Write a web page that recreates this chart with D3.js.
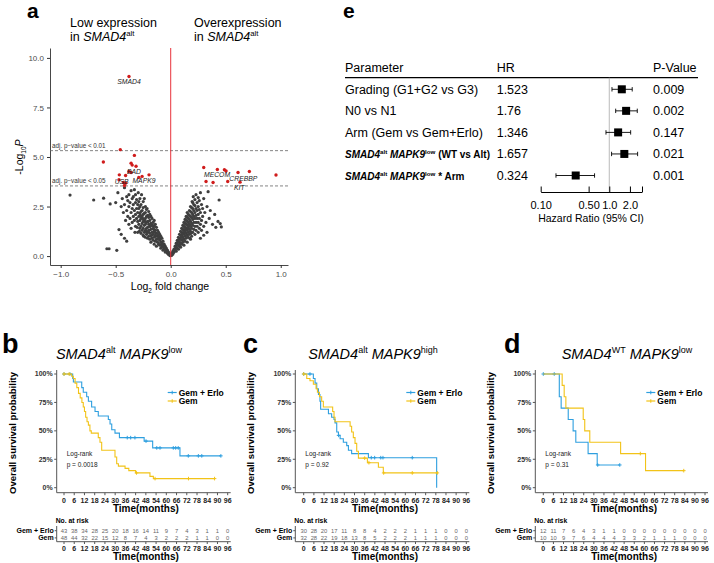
<!DOCTYPE html>
<html><head><meta charset="utf-8">
<script src="https://cdn.jsdelivr.net/npm/d3@7"></script>
<style>
body{margin:0;background:#fff;}
svg{display:block;font-family:"Liberation Sans",Arial,sans-serif;}
</style></head><body>
<svg id="c" width="714" height="563"></svg>
<script>
// ---------------- DATA ----------------
// Panel a: volcano plot (log2 fold change, -log10 P)
const volcanoGray = [
[-0.005,0.02],[-0.01,0.05],[-0.012,0.12],[-0.02,0.08],[-0.02,0.2],[-0.025,0.14],[-0.03,0.15],[-0.03,0.3],[-0.035,0.22],[-0.04,0.25],[-0.04,0.4],[-0.045,0.32],[-0.05,0.2],[-0.05,0.5],[-0.055,0.38],[-0.06,0.35],[-0.06,0.6],[-0.065,0.48],[-0.07,0.3],[-0.07,0.5],[-0.07,0.75],[-0.075,0.62],[-0.08,0.45],[-0.08,0.65],[-0.08,0.9],[-0.085,0.55],[-0.09,0.4],[-0.09,0.7],[-0.09,1.0],[-0.095,0.85],[-0.10,0.55],[-0.10,0.8],[-0.10,1.1],[-0.105,0.95],[-0.11,0.6],[-0.11,0.9],[-0.11,1.2],[-0.115,1.05],[-0.12,0.7],[-0.12,1.0],[-0.12,1.3],[-0.125,0.85],[-0.13,0.5],[-0.13,0.85],[-0.13,1.15],[-0.13,1.45],[-0.135,1.0],[-0.14,0.75],[-0.14,1.05],[-0.14,1.3],[-0.14,1.6],[-0.145,1.2],[-0.15,0.6],[-0.15,0.95],[-0.15,1.25],[-0.15,1.5],[-0.15,1.8],[-0.155,1.35],[-0.16,0.8],[-0.16,1.1],[-0.16,1.4],[-0.16,1.7],[-0.165,1.55],[-0.17,0.9],[-0.17,1.2],[-0.17,1.55],[-0.17,1.9],[-0.175,1.05],[-0.18,0.7],[-0.18,1.0],[-0.18,1.35],[-0.18,1.65],[-0.18,2.0],[-0.185,1.5],[-0.19,0.85],[-0.19,1.15],[-0.19,1.5],[-0.19,1.8],[-0.19,2.1],[-0.195,1.3],[-0.20,1.0],[-0.20,1.3],[-0.20,1.6],[-0.20,1.95],[-0.20,2.25],[-0.205,1.75],[-0.21,0.9],[-0.21,1.2],[-0.21,1.45],[-0.21,1.75],[-0.21,2.05],[-0.215,2.4],[-0.22,1.1],[-0.22,1.4],[-0.22,1.7],[-0.22,2.0],[-0.22,2.35],[-0.225,1.25],[-0.23,0.95],[-0.23,1.3],[-0.23,1.6],[-0.23,1.9],[-0.23,2.2],[-0.23,2.5],[-0.235,1.75],[-0.24,1.2],[-0.24,1.55],[-0.24,1.85],[-0.24,2.15],[-0.24,2.9],[-0.245,1.0],[-0.25,1.05],[-0.25,1.4],[-0.25,1.75],[-0.25,2.1],[-0.25,2.45],[-0.25,2.75],[-0.255,1.9],[-0.26,1.3],[-0.26,1.65],[-0.26,2.0],[-0.26,2.3],[-0.265,3.1],[-0.27,1.15],[-0.27,1.5],[-0.27,1.9],[-0.27,2.25],[-0.27,2.6],[-0.275,2.05],[-0.28,1.4],[-0.28,1.8],[-0.28,2.15],[-0.28,2.5],[-0.28,2.9],[-0.285,1.25],[-0.29,1.6],[-0.29,2.0],[-0.29,2.4],[-0.29,2.75],[-0.295,3.2],[-0.30,1.2],[-0.30,1.75],[-0.30,2.2],[-0.30,2.6],[-0.305,1.45],[-0.31,1.9],[-0.31,2.4],[-0.31,2.85],[-0.32,1.5],[-0.32,2.1],[-0.32,2.7],[-0.32,3.1],[-0.325,1.2],[-0.33,1.8],[-0.33,2.3],[-0.33,3.35],[-0.34,2.0],[-0.34,2.6],[-0.34,3.0],[-0.35,1.7],[-0.35,2.4],[-0.35,2.9],[-0.36,1.4],[-0.36,2.2],[-0.36,3.3],[-0.37,1.9],[-0.37,2.7],[-0.38,1.6],[-0.38,2.5],[-0.38,3.1],[-0.39,2.0],[-0.39,2.8],[-0.40,2.3],[-0.40,3.0],[-0.41,1.8],[-0.42,2.6],[-0.42,3.45],[-0.43,2.2],[-0.44,2.9],[-0.45,1.1],[-0.45,2.5],[-0.47,1.34],[-0.48,3.2],[-0.50,2.7],[-0.55,2.63],[-0.58,0.37],[-0.56,0.37],[-0.49,0.29],[-0.61,2.92],[-0.70,2.83],[-0.915,3.08],[-0.42,0.9],[-0.40,0.75],
[0.005,0.03],[0.01,0.05],[0.01,0.15],[0.015,0.1],[0.02,0.1],[0.02,0.25],[0.025,0.18],[0.03,0.2],[0.03,0.35],[0.035,0.28],[0.04,0.3],[0.04,0.5],[0.045,0.4],[0.05,0.25],[0.05,0.45],[0.05,0.65],[0.055,0.55],[0.06,0.4],[0.06,0.6],[0.06,0.8],[0.065,0.7],[0.07,0.35],[0.07,0.55],[0.07,0.75],[0.07,0.95],[0.075,0.85],[0.08,0.5],[0.08,0.7],[0.08,0.9],[0.08,1.1],[0.085,0.6],[0.09,0.45],[0.09,0.65],[0.09,0.85],[0.09,1.05],[0.09,1.25],[0.095,0.95],[0.10,0.6],[0.10,0.8],[0.10,1.0],[0.10,1.2],[0.10,1.4],[0.105,1.1],[0.11,0.7],[0.11,0.95],[0.11,1.15],[0.11,1.35],[0.11,1.55],[0.115,0.85],[0.12,0.55],[0.12,0.85],[0.12,1.1],[0.12,1.3],[0.12,1.5],[0.12,1.7],[0.125,1.2],[0.13,0.75],[0.13,1.0],[0.13,1.25],[0.13,1.45],[0.13,1.65],[0.13,1.85],[0.135,1.35],[0.14,0.9],[0.14,1.15],[0.14,1.4],[0.14,1.6],[0.14,1.8],[0.14,2.0],[0.145,1.05],[0.15,0.7],[0.15,1.05],[0.15,1.3],[0.15,1.55],[0.15,1.75],[0.15,1.95],[0.15,2.2],[0.155,1.4],[0.16,0.95],[0.16,1.2],[0.16,1.45],[0.16,1.7],[0.16,1.9],[0.16,2.1],[0.165,1.6],[0.17,1.1],[0.17,1.35],[0.17,1.6],[0.17,1.85],[0.17,2.05],[0.17,2.3],[0.175,0.9],[0.18,0.85],[0.18,1.25],[0.18,1.5],[0.18,1.75],[0.18,2.0],[0.18,2.25],[0.18,2.5],[0.185,1.15],[0.19,1.0],[0.19,1.4],[0.19,1.65],[0.19,1.95],[0.19,2.2],[0.19,2.45],[0.195,2.75],[0.20,1.2],[0.20,1.55],[0.20,1.85],[0.20,2.1],[0.20,2.4],[0.20,2.7],[0.205,3.0],[0.21,1.35],[0.21,1.7],[0.21,2.0],[0.21,2.3],[0.21,2.6],[0.22,1.1],[0.22,1.5],[0.22,1.9],[0.22,2.2],[0.22,2.55],[0.22,2.85],[0.23,1.3],[0.23,1.7],[0.23,2.05],[0.23,2.4],[0.23,3.1],[0.24,1.5],[0.24,1.9],[0.24,2.3],[0.24,2.7],[0.25,1.2],[0.25,1.7],[0.25,2.1],[0.25,2.5],[0.25,2.95],[0.26,1.4],[0.26,1.9],[0.26,2.35],[0.26,2.8],[0.27,0.9],[0.27,1.6],[0.27,2.2],[0.27,3.2],[0.28,1.3],[0.28,1.8],[0.28,2.6],[0.29,2.0],[0.29,2.4],[0.30,1.05],[0.30,1.5],[0.30,2.9],[0.31,2.2],[0.32,1.7],[0.33,1.2],[0.33,2.5],[0.34,3.25],[0.35,1.9],[0.36,2.3],[0.38,1.6],[0.40,2.1],[0.41,1.45],[0.44,2.83],[0.43,1.75],[0.45,1.64],[0.46,1.47]
];
const volcanoRed = [
[-0.379,9.06],[-0.458,5.37],[-0.612,4.75],[-0.33,5.08],[-0.36,4.69],[-0.35,4.59],[-0.315,4.53],[-0.38,4.27],[-0.36,4.22],[-0.467,4.1],[-0.41,4.07],[-0.197,4.1],[-0.26,4.02],[-0.29,3.97],[-0.47,3.85],[-0.43,3.71],[-0.41,3.68],[-0.42,3.56],
[0.30,4.47],[0.424,4.37],[0.488,4.36],[0.503,4.29],[0.612,4.22],[0.715,4.27],[0.321,3.76],[0.385,3.71],[0.518,3.76],[0.63,3.73],[0.957,4.09]
];
const geneNames = ["SMAD4","BAD","USB","MAPK9","MECOM","CREBBP","KIT"];
const geneLabelAt = [[-0.379,8.79],[-0.334,4.21],[-0.446,3.75],[-0.243,3.80],[0.421,4.06],[0.66,3.89],[0.624,3.42]];
const thresholdLabels = ["adj. p\u2212value < 0.01","adj. p\u2212value < 0.05"];
const thresholdValues = [5.32, 3.54];
const volcanoXTicks = [-1,-0.5,0,0.5,1];
const volcanoYTicks = [0,2.5,5,7.5,10];

// Panel e: forest plot
const forestParams = ["Grading (G1+G2 vs G3)","N0 vs N1","Arm (Gem vs Gem+Erlo)","SMAD4|alt|MAPK9|low| (WT vs Alt)","SMAD4|alt|MAPK9|low| * Arm"];
const forestHR = [1.523,1.76,1.346,1.657,0.324];
const forestHRLabel = ["1.523","1.76","1.346","1.657","0.324"];
const forestLo = [1.095,1.24,0.895,1.08,0.167];
const forestHi = [2.16,2.56,2.05,2.59,0.61];
const forestP = ["0.009","0.002","0.147","0.021","0.001"];
const forestTicks = [0.1,0.5,1,2,3];
const forestTickLabels = ["0.10","0.50","1.0","2.0",""];

// Panels b-d: Kaplan-Meier
const kmTimeTicks = [0,6,12,18,24,30,36,42,48,54,60,66,72,78,84,90,96];
const kmSurvTicks = [0,0.25,0.5,0.75,1];
const groups = ["Gem + Erlo","Gem"];
// b
const bErloT = [0,5.1,5.5,10.4,11.3,13.3,14.3,16.2,18.2,20.1,26,27,28,29.9,32.5,47,52,68];
const bErloS = [1,0.96,0.93,0.88,0.84,0.80,0.76,0.71,0.67,0.63,0.60,0.56,0.51,0.48,0.44,0.41,0.35,0.28];
const bErloEnd = 92;
const bErloCens = [0,3.5,37.1,39.1,41.6,48.1,54.4,56.3,64.1,65.5,67,72.9,78.8,80.8,92];
const bGemT = [0,4.5,5.5,6.5,7.5,8.5,9.5,10.5,11.3,12,12.7,13.5,14.3,15.2,16,20.1,21.1,22.1,29.9,30.9,31.9,35.8,38,42,50.4,52.4];
const bGemS = [1,0.98,0.96,0.92,0.88,0.83,0.79,0.75,0.71,0.67,0.62,0.58,0.55,0.50,0.48,0.44,0.40,0.33,0.27,0.21,0.19,0.17,0.15,0.13,0.10,0.08];
const bGemEnd = 88.3;
const bGemCens = [0,3,42.5,53.4,73,88.3];
const bRiskErlo = [43,38,34,28,25,20,18,16,14,11,9,7,4,3,1,1,0];
const bRiskGem = [48,44,32,22,15,12,8,7,4,3,2,2,2,1,1,0,0];
// c
const cErloT = [0,5.7,6.7,7.7,8.7,9.6,10,14.6,16.5,17.9,18.5,19.5,20.5,21.5,23.4,25.4,26.4,28.3,38.2,78.5];
const cErloS = [1,0.96,0.92,0.87,0.82,0.76,0.69,0.65,0.62,0.60,0.57,0.49,0.46,0.43,0.40,0.37,0.33,0.30,0.264,0];
const cErloEnd = 78.5;
const cErloCens = [0,3.7,20.6,39.9,41.9,45.5,46.8,64.1];
const cGemT = [0,1.8,3.7,5.7,7.3,8.1,9.3,10.6,11.6,17.1,17.9,18.5,27.4,28.3,29.3,30.3,31.3,32.3,37.6,44.1,47];
const cGemS = [1,0.96,0.94,0.91,0.87,0.84,0.80,0.76,0.71,0.67,0.62,0.58,0.54,0.49,0.44,0.39,0.32,0.26,0.22,0.18,0.13];
const cGemEnd = 78.9;
const cGemCens = [0,36,38.5,47.2,64.1,78.9];
const cRiskErlo = [30,28,20,17,11,8,8,4,2,2,2,1,1,1,0,0,0];
const cRiskGem = [32,28,22,19,18,13,8,5,2,2,2,1,1,1,0,0,0];
// d
const dErloT = [0,9.5,10.6,14.8,17.7,19.3,26.6,32];
const dErloS = [1,0.8,0.7,0.6,0.5,0.4,0.3,0.2];
const dErloEnd = 45.4;
const dErloCens = [0,6.5,32.3,45.4];
const dGemT = [0,11.2,12.4,13.4,23.7,24.6,27.6,45.9,60.7];
const dGemS = [1,0.9,0.8,0.7,0.6,0.5,0.4,0.3,0.15];
const dGemEnd = 83.4;
const dGemCens = [57.6,83.4];
const dRiskErlo = [12,11,7,6,4,3,1,1,0,0,0,0,0,0,0,0,0];
const dRiskGem = [10,10,9,7,6,4,4,4,3,3,2,1,1,1,0,0,0];
const kmPValues = ["p = 0.0018","p = 0.92","p = 0.31"];

// ---------------- DRAWING ----------------
const svg = d3.select("#c");
svg.append("rect").attr("width",714).attr("height",563).attr("fill","#fff");
const BLUE = "#2E9FDF", YELLOW = "#F2C318";

function rich(t, segs, fs){
  let off = 0;
  segs.forEach(s=>{
    const target = s.sup ? -fs*0.38 : (s.sub ? fs*0.25 : 0);
    const sp = t.append("tspan").text(s.t);
    if (target !== off) sp.attr("dy", target-off);
    off = target;
    if (s.sup || s.sub) sp.attr("font-size", fs*0.62);
    if (s.it) sp.attr("font-style","italic");
    if (s.b) sp.attr("font-weight","bold");
  });
}

// ===== Panel a =====
const xA = d3.scaleLinear().domain([-1.097,1.066]).range([50,288]);
const yA = d3.scaleLinear().domain([-0.45,10.5]).range([265,48]);
svg.append("text").attr("x",27).attr("y",18).attr("font-size",21).attr("font-weight","bold").text("a");
svg.append("text").attr("x",70).attr("y",27).attr("font-size",12.5).text("Low expression");
rich(svg.append("text").attr("x",70).attr("y",41).attr("font-size",12.5),[{t:"in "},{t:"SMAD4",it:1},{t:"alt",sup:1}],12.5);
svg.append("text").attr("x",194).attr("y",27).attr("font-size",12.5).text("Overexpression");
rich(svg.append("text").attr("x",194).attr("y",41).attr("font-size",12.5),[{t:"in "},{t:"SMAD4",it:1},{t:"alt",sup:1}],12.5);

const axL = svg.append("g").attr("transform","translate(50,0)")
  .call(d3.axisLeft(yA).tickValues(volcanoYTicks).tickFormat(d3.format(".1f")).tickSize(3).tickSizeOuter(0));
const axB = svg.append("g").attr("transform","translate(0,265)")
  .call(d3.axisBottom(xA).tickValues(volcanoXTicks).tickFormat(d3.format(".1f")).tickSize(3).tickSizeOuter(0));
[axL,axB].forEach(a=>{
  a.select(".domain").attr("stroke","#333").attr("stroke-width",0.9);
  a.selectAll(".tick line").attr("stroke","#333");
  a.selectAll(".tick text").attr("fill","#4d4d4d").attr("font-size",8).attr("font-family","Liberation Sans, Arial, sans-serif");
});
rich(svg.append("text").attr("text-anchor","middle").attr("font-size",10.5)
  .attr("transform","translate(23,157) rotate(-90)"),
  [{t:"-Log"},{t:"10",sub:1},{t:"P",it:1}],10.5);
rich(svg.append("text").attr("text-anchor","middle").attr("font-size",10.5).attr("x",170).attr("y",290),
  [{t:"Log"},{t:"2",sub:1},{t:" fold change"}],10.5);

thresholdValues.forEach((v,i)=>{
  svg.append("line").attr("x1",50).attr("x2",288).attr("y1",yA(v)).attr("y2",yA(v))
    .attr("stroke","#666").attr("stroke-width",0.8).attr("stroke-dasharray","3,2");
  svg.append("text").attr("x",52).attr("y",yA(v)-3).attr("font-size",6.3).attr("fill","#333").text(thresholdLabels[i]);
});
svg.append("g").selectAll("circle").data(volcanoGray).join("circle")
  .attr("cx",d=>xA(d[0])).attr("cy",d=>yA(d[1])).attr("r",1.6).attr("fill","#3f3f3f");
svg.append("line").attr("x1",xA(0)).attr("x2",xA(0)).attr("y1",48).attr("y2",265).attr("stroke","#e8323a").attr("stroke-width",1);
svg.append("g").selectAll("circle").data(volcanoRed).join("circle")
  .attr("cx",d=>xA(d[0])).attr("cy",d=>yA(d[1])).attr("r",1.7).attr("fill","#d01c1c");
svg.append("g").selectAll("text").data(geneNames).join("text")
  .attr("x",(d,i)=>xA(geneLabelAt[i][0])).attr("y",(d,i)=>yA(geneLabelAt[i][1]))
  .attr("text-anchor","middle").attr("dominant-baseline","middle")
  .attr("font-size",6.8).attr("font-style","italic").attr("fill","#222").text(d=>d);

// ===== Panel e =====
svg.append("text").attr("x",343).attr("y",18).attr("font-size",21).attr("font-weight","bold").text("e");
const fx = d3.scaleLog().domain([0.1,3]).range([540.7,642]);
const fy = d3.scalePoint().domain(d3.range(forestParams.length)).range([89.3,175.5]);
const FS = 12.5;
svg.append("text").attr("x",345).attr("y",72).attr("font-size",FS).text("Parameter");
svg.append("text").attr("x",496.7).attr("y",72).attr("font-size",FS).text("HR");
svg.append("text").attr("x",653).attr("y",72).attr("font-size",FS).text("P-Value");
svg.append("line").attr("x1",345).attr("x2",698).attr("y1",77.7).attr("y2",77.7).attr("stroke","#000").attr("stroke-width",1.2);
svg.append("line").attr("x1",fx(1)).attr("x2",fx(1)).attr("y1",77.7).attr("y2",192).attr("stroke","#aaa").attr("stroke-width",0.8);
forestParams.forEach((p,i)=>{
  const y = fy(i);
  const t = svg.append("text").attr("x",345).attr("y",y+4.3);
  if (p.includes("|")) {
    const parts = p.split("|");
    t.attr("font-size",10).attr("font-weight","bold");
    rich(t,[{t:parts[0],it:1},{t:parts[1],sup:1},{t:" "+parts[2],it:1},{t:parts[3],sup:1},{t:parts[4]}],10);
  } else {
    t.attr("font-size",FS).text(p);
  }
  svg.append("text").attr("x",496.7).attr("y",y+4.5).attr("font-size",FS).text(forestHRLabel[i]);
  svg.append("text").attr("x",653).attr("y",y+4.5).attr("font-size",FS).text(forestP[i]);
  svg.append("line").attr("x1",fx(forestLo[i])).attr("x2",fx(forestHi[i])).attr("y1",y).attr("y2",y).attr("stroke","#000").attr("stroke-width",0.9);
  [forestLo[i],forestHi[i]].forEach(v=>svg.append("line").attr("x1",fx(v)).attr("x2",fx(v)).attr("y1",y-2.2).attr("y2",y+2.2).attr("stroke","#000").attr("stroke-width",0.9));
  svg.append("rect").attr("x",fx(forestHR[i])-4).attr("y",y-4).attr("width",8).attr("height",8).attr("fill","#000");
});
const fax = svg.append("g").attr("transform","translate(0,192)")
  .call(d3.axisBottom(fx).tickValues(forestTicks).tickFormat((d,i)=>forestTickLabels[i]).tickSize(-5.5).tickPadding(9).tickSizeOuter(0));
fax.select(".domain").attr("stroke","#000");
fax.selectAll(".tick line").attr("stroke","#000");
fax.selectAll(".tick text").attr("font-size",11).attr("fill","#000").attr("font-family","Liberation Sans, Arial, sans-serif");
svg.append("text").attr("x",591).attr("y",222).attr("text-anchor","middle").attr("font-size",10.5).text("Hazard Ratio (95% CI)");

// ===== KM panels =====
const panels = [
  {letter:"b", lx:2, ax:56.7, x0:64, x1:227.7, tc:119, title:["SMAD4","alt","MAPK9","low"],
   erlo:[bErloT,bErloS,bErloEnd,bErloCens], gem:[bGemT,bGemS,bGemEnd,bGemCens], risk:[bRiskErlo,bRiskGem], p:kmPValues[0]},
  {letter:"c", lx:243, ax:295.3, x0:303.7, x1:466.3, tc:373, title:["SMAD4","alt","MAPK9","high"],
   erlo:[cErloT,cErloS,cErloEnd,cErloCens], gem:[cGemT,cGemS,cGemEnd,cGemCens], risk:[cRiskErlo,cRiskGem], p:kmPValues[1]},
  {letter:"d", lx:504, ax:535.3, x0:543.3, x1:705, tc:627, title:["SMAD4","WT","MAPK9","low"],
   erlo:[dErloT,dErloS,dErloEnd,dErloCens], gem:[dGemT,dGemS,dGemEnd,dGemCens], risk:[dRiskErlo,dRiskGem], p:kmPValues[2]}
];
const AXC = "#555";
function stepAt(T,S,t){ let s=S[0]; for(let i=0;i<T.length;i++){ if(T[i]<=t) s=S[i]; } return s; }

panels.forEach(P=>{
  const g = svg.append("g");
  const x = d3.scaleLinear().domain([0,96]).range([P.x0,P.x1]);
  const y = d3.scaleLinear().domain([0,1]).range([487.7,374]);
  g.append("text").attr("x",P.lx).attr("y",353).attr("font-size",27).attr("font-weight","bold").text(P.letter);
  rich(g.append("text").attr("x",P.tc).attr("y",359).attr("text-anchor","middle").attr("font-size",14.5),
    [{t:P.title[0],it:1},{t:P.title[1],sup:1},{t:" "+P.title[2],it:1},{t:P.title[3],sup:1}],14.5);
  // axes
  g.append("line").attr("x1",P.ax).attr("x2",P.ax).attr("y1",370).attr("y2",492.7).attr("stroke",AXC);
  g.append("line").attr("x1",P.ax).attr("x2",P.x1+3).attr("y1",492.7).attr("y2",492.7).attr("stroke",AXC);
  kmSurvTicks.forEach(v=>{
    g.append("line").attr("x1",P.ax-2.5).attr("x2",P.ax).attr("y1",y(v)).attr("y2",y(v)).attr("stroke",AXC);
    g.append("text").attr("x",P.ax-4).attr("y",y(v)+2.4).attr("text-anchor","end").attr("font-size",7).attr("font-weight","bold").attr("fill","#333").text(Math.round(v*100)+"%");
  });
  kmTimeTicks.forEach(t=>{
    g.append("line").attr("x1",x(t)).attr("x2",x(t)).attr("y1",492.7).attr("y2",495.2).attr("stroke",AXC);
    g.append("text").attr("x",x(t)).attr("y",502.5).attr("text-anchor","middle").attr("font-size",7).attr("font-weight","bold").attr("fill","#222").text(t);
  });
  g.append("text").attr("x",(P.x0+P.x1)/2).attr("y",511.5).attr("text-anchor","middle").attr("font-size",10).attr("font-weight","bold").text("Time(months)");
  g.append("text").attr("transform",`translate(${P.ax-41},433) rotate(-90)`).attr("text-anchor","middle")
    .attr("font-size",9.5).attr("font-weight","bold").text("Overall survival probability");
  // curves
  [[P.erlo,BLUE],[P.gem,YELLOW]].forEach(([c,col])=>{
    const [T,S,end,cens] = c;
    const pts = T.map((t,i)=>[t,S[i]]);
    pts.push([end,S[S.length-1]]);
    g.append("path").attr("d",d3.line().x(d=>x(d[0])).y(d=>y(d[1])).curve(d3.curveStepAfter)(pts))
      .attr("fill","none").attr("stroke",col).attr("stroke-width",1.1);
    cens.forEach(t=>{
      const cx = x(t), cy = y(stepAt(T,S,t));
      g.append("path").attr("d",`M${cx-1.8},${cy}H${cx+1.8}M${cx},${cy-1.8}V${cy+1.8}`).attr("stroke",col).attr("stroke-width",1);
    });
  });
  // legend
  [[groups[0],BLUE,392.5],[groups[1],YELLOW,401]].forEach(([lab,col,ly])=>{
    const lx = P.ax+122;
    g.append("line").attr("x1",lx-11).attr("x2",lx-2).attr("y1",ly).attr("y2",ly).attr("stroke",col).attr("stroke-width",1.2);
    g.append("path").attr("d",`M${lx-6.5},${ly-1.8}V${ly+1.8}`).attr("stroke",col).attr("stroke-width",1);
    g.append("text").attr("x",lx).attr("y",ly+3).attr("font-size",8.5).attr("font-weight","bold").text(lab);
  });
  g.append("text").attr("x",P.ax+10).attr("y",456).attr("font-size",6.5).attr("fill","#222").text("Log-rank");
  g.append("text").attr("x",P.ax+10).attr("y",467).attr("font-size",6.5).attr("fill","#222").text(P.p);
  // risk table
  g.append("text").attr("x",P.ax-1).attr("y",523).attr("font-size",6.8).attr("font-weight","bold").text("No. at risk");
  g.append("line").attr("x1",P.ax).attr("x2",P.ax).attr("y1",526).attr("y2",541.7).attr("stroke",AXC);
  g.append("line").attr("x1",P.ax).attr("x2",P.x1+3).attr("y1",541.7).attr("y2",541.7).attr("stroke",AXC);
  [[groups[0],530.7,P.risk[0]],[groups[1],537.9,P.risk[1]]].forEach(([lab,ry,vals])=>{
    g.append("line").attr("x1",P.ax-2).attr("x2",P.ax).attr("y1",ry).attr("y2",ry).attr("stroke",AXC);
    g.append("text").attr("x",P.ax-3).attr("y",ry+2.4).attr("text-anchor","end").attr("font-size",7).attr("font-weight","bold").text(lab);
    vals.forEach((v,i)=>g.append("text").attr("x",x(kmTimeTicks[i])).attr("y",ry+2.1).attr("text-anchor","middle").attr("font-size",5.8).attr("fill","#666").text(v));
  });
  kmTimeTicks.forEach(t=>{
    g.append("line").attr("x1",x(t)).attr("x2",x(t)).attr("y1",541.7).attr("y2",544).attr("stroke",AXC);
    g.append("text").attr("x",x(t)).attr("y",550.8).attr("text-anchor","middle").attr("font-size",7).attr("font-weight","bold").attr("fill","#222").text(t);
  });
  g.append("text").attr("x",(P.x0+P.x1)/2).attr("y",560).attr("text-anchor","middle").attr("font-size",10).attr("font-weight","bold").text("Time(months)");
});
</script></body></html>
